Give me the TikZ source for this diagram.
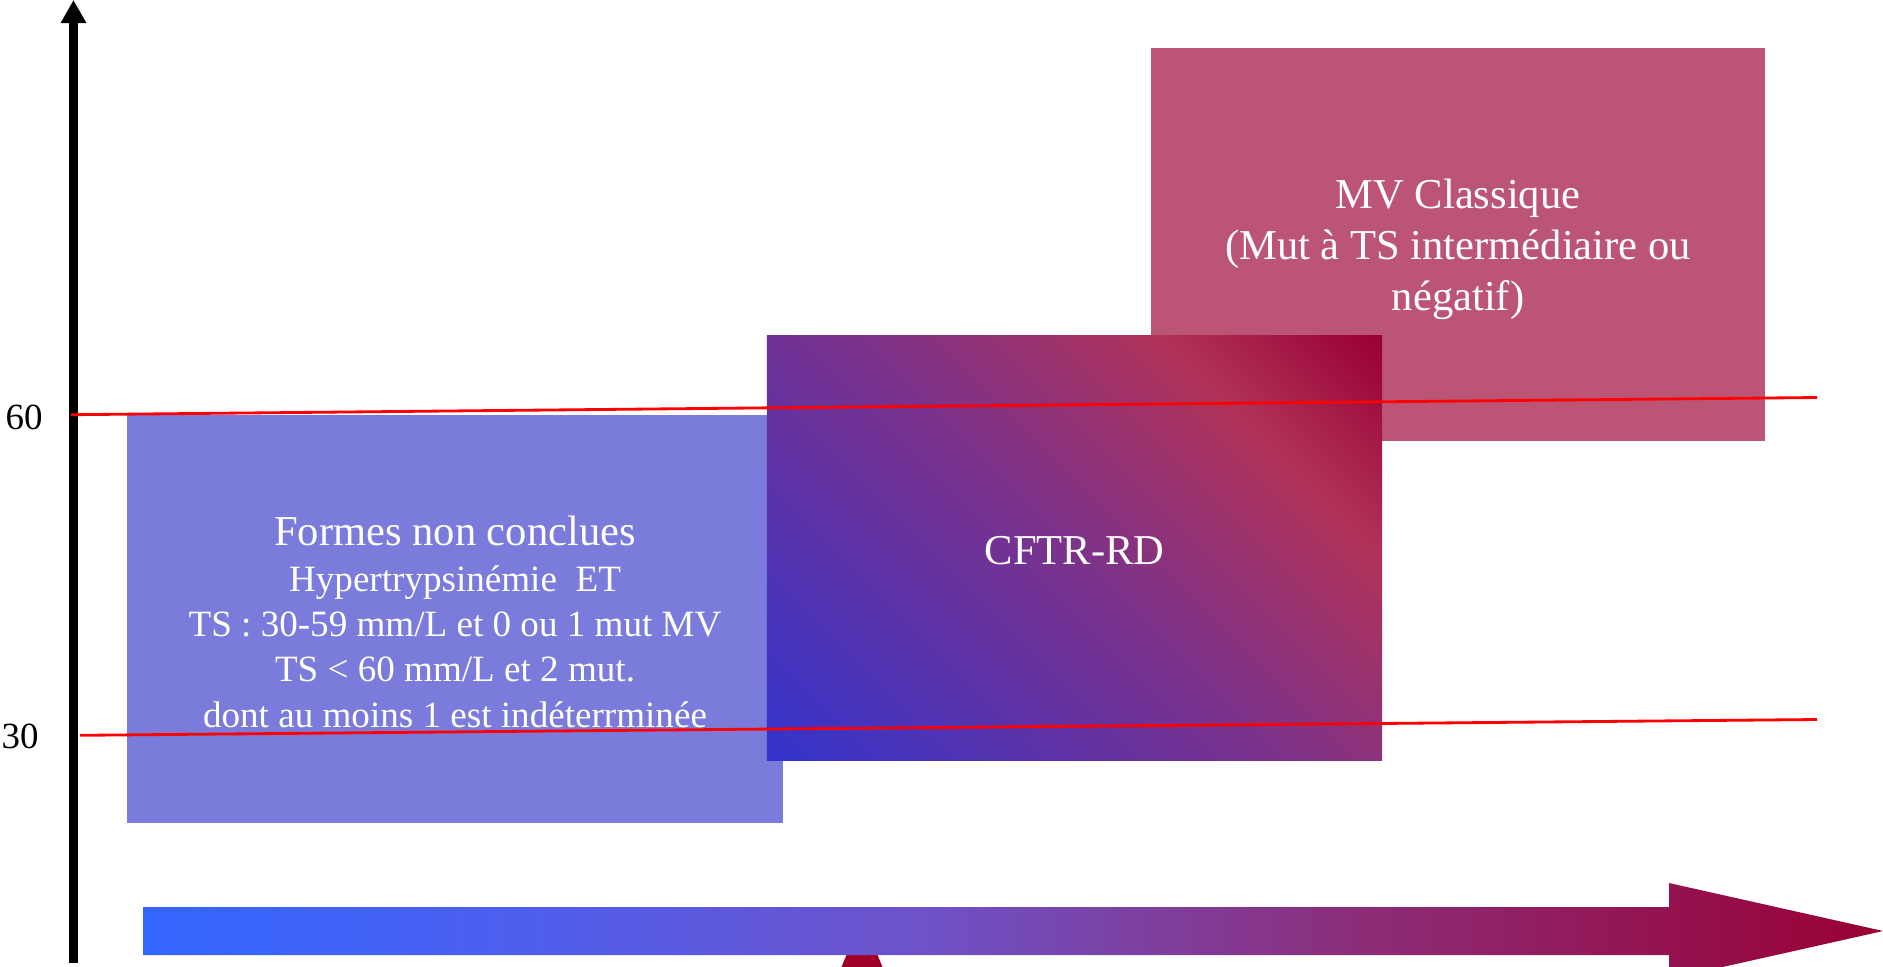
\documentclass[tikz,border=0pt]{standalone}
\usepackage{fontspec}
\setmainfont{Liberation Serif}
\usetikzlibrary{arrows.meta}

\definecolor{formesblue}{RGB}{123,123,220}
\definecolor{mvrose}{RGB}{188,84,117}
\definecolor{pointred}{RGB}{160,0,40}
% stops of the two gradients
\definecolor{gbleu}{RGB}{51,51,204}
\definecolor{gviolet}{RGB}{125,50,138}
\definecolor{grose}{RGB}{176,50,88}
\definecolor{grouge}{RGB}{153,0,51}
\definecolor{fbleu}{RGB}{51,102,255}
\definecolor{fbleu2}{RGB}{75,95,240}
\definecolor{fviolet}{RGB}{110,82,200}
\definecolor{fprune}{RGB}{140,45,120}

\pgfdeclarehorizontalshading{cftrshade}{100bp}{%
  color(0bp)=(gbleu); color(14.64bp)=(gbleu); color(50bp)=(gviolet);
  color(70.5bp)=(grose); color(85.36bp)=(grouge); color(100bp)=(grouge)}
\pgfdeclarehorizontalshading{flecheshade}{100bp}{%
  color(0bp)=(fbleu); color(25bp)=(fbleu); color(35bp)=(fbleu2);
  color(47.5bp)=(fviolet); color(60bp)=(fprune); color(75bp)=(grouge);
  color(100bp)=(grouge)}

\def\zonefont{\fontsize{12.1}{14.5}\selectfont}
\def\detailfont{\fontsize{10.55}{12.8}\selectfont}

\tikzset{
  zone/.style 2 args={rectangle, minimum width=#1, minimum height=#2,
                inner sep=0pt, outer sep=0pt},
  zonetext/.style={text=white, align=center, inner sep=0pt},
  seuil/.style={draw=red, line width=0.8pt},
  axe/.style={line width=0.08cm, -{Triangle[length=0.23cm,width=0.24cm]}},
  graduation/.style={font=\fontsize{10.5}{12}\selectfont, inner sep=0pt},
}

\begin{document}
\begin{tikzpicture}[x=0.01cm, y=-0.01cm]
  \useasboundingbox[fill=white] (0,0) rectangle (1883,966);
  % pointer under the big arrow, mostly cut by the page
  \fill[pointred] (862,917) -- (896,1000) -- (828,1000) -- cycle;
  % big horizontal arrow
  \shade[shading=flecheshade] (143,907) -- (1669,907) -- (1669,883) -- (1883,931)
    -- (1669,979) -- (1669,955) -- (143,955) -- cycle;
  % vertical axis
  \coordinate (ybas) at (73.5,963);
  \coordinate (yhaut) at (73.5,0);
  \draw[axe] (ybas) -- (yhaut);
  % the three zones
  \node[zone={6.56cm}{4.08cm}, fill=formesblue] (formes) at (455,619) {};
  \node[zone={6.14cm}{3.93cm}, fill=mvrose] (mv) at (1458,244.5) {};
  \node[zone={6.15cm}{4.24cm}, shading=cftrshade, shading angle=45] (cftr) at (1074.5,548) {};
  \node[zonetext, font=\detailfont] (formestext) at ([yshift=-0.025cm]formes.center)
    {{\zonefont Formes non conclues}\\[0.5pt]
     Hypertrypsinémie\ \ ET\\
     TS : 30-59 mm/L et 0 ou 1 mut MV\\
     TS < 60 mm/L et 2 mut.\\
     dont au moins 1 est indéterrminée};
  \node[zonetext, font=\zonefont] (mvtext) at ([yshift=-0.05cm]mv.center)
    {MV Classique\\(Mut à TS intermédiaire ou\\négatif)};
  \node[zonetext, font=\zonefont] (cftrtext) at ([yshift=-0.025cm]cftr.center) {CFTR-RD};
  % thresholds 60 and 30
  \coordinate (s60g) at (71,414.7);
  \coordinate (s60d) at (1817,397.5);
  \coordinate (s30g) at (80,735.3);
  \coordinate (s30d) at (1817,719.5);
  \draw[seuil] (s60g) -- (s60d);
  \draw[seuil] (s30g) -- (s30d);
  \node[graduation] (g60) at (24,417) {60};
  \node[graduation] (g30) at (20,736) {30};
\end{tikzpicture}
\end{document}
